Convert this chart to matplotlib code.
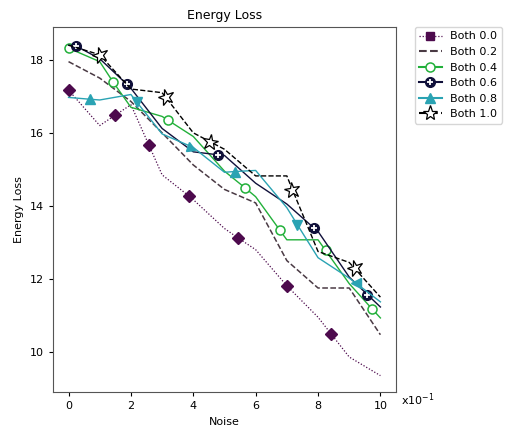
import matplotlib
matplotlib.use("Agg")
import matplotlib.pyplot as plt
from matplotlib.lines import Line2D
from matplotlib.markers import MarkerStyle
from matplotlib.transforms import Affine2D
from matplotlib.legend_handler import HandlerTuple

# --- data (noise in units of 1e-1) ---
labels = ["Both 0.0", "Both 0.2", "Both 0.4", "Both 0.6", "Both 0.8", "Both 1.0"]

noise_00 = [0, 1, 1.49, 2, 2.58, 3, 3.86, 4, 5, 5.42, 6, 7, 8, 8.43, 9, 10]
loss_00 = [17.17, 16.2, 16.48, 16.77, 15.66, 14.85, 14.27, 14.17, 13.38, 13.13, 12.8, 11.81, 10.95, 10.48, 9.86, 9.35]
marks_00 = [0, 2, 4, 6, 9, 11, 13]

noise_02 = [0, 1, 2, 3, 4, 5, 6, 7, 8, 9, 10]
loss_02 = [17.95, 17.5, 16.86, 16.0, 15.12, 14.45, 14.08, 12.5, 11.75, 11.75, 10.47]

noise_04 = [0, 1, 1.43, 2, 3, 3.2, 4, 5, 5.65, 6, 6.77, 7, 8, 8.24, 9, 9.74, 10]
loss_04 = [18.32, 17.95, 17.39, 16.7, 16.45, 16.34, 15.9, 14.95, 14.5, 14.25, 13.34, 13.07, 13.07, 12.78, 11.87, 11.17, 10.93]
marks_04 = [0, 2, 5, 8, 10, 13, 15]

noise_06 = [0, 0.24, 1, 1.87, 2, 3, 4, 4.78, 5, 6, 7, 7.86, 8, 9, 9.58, 10]
loss_06 = [18.4, 18.38, 18.03, 17.33, 17.22, 16.12, 15.48, 15.4, 15.38, 14.62, 14.05, 13.4, 13.3, 12.05, 11.57, 11.23]
marks_06 = [1, 3, 7, 11, 14]

noise_08 = [0, 0.69, 1, 2, 2.19, 3, 3.89, 4, 5, 5.33, 6, 7, 7.34, 8, 9, 9.22, 10]
loss_08 = [16.97, 16.92, 16.9, 17.05, 16.84, 15.97, 15.64, 15.6, 14.92, 14.94, 14.97, 13.95, 13.48, 12.58, 12.02, 11.88, 11.37]
marks_08 = [1, 4, 6, 9, 12, 15]
tri_angles = [0, 180, 10, 0, 180, 90]

noise_10 = [0, 1, 2, 3, 3.12, 4, 4.53, 5, 6, 7, 7.18, 8, 9, 9.17, 10]
loss_10 = [18.4, 18.14, 17.2, 17.1, 16.97, 16.0, 15.76, 15.55, 14.82, 14.82, 14.44, 12.75, 12.45, 12.29, 11.5]
marks_10 = [1, 4, 6, 10, 13]
star_angles = [15, 15, -10, 10, 15]

c00, c02, c04, c06, c08, c10 = "#4d0a4d", "#4a3a44", "#22b03a", "#10103a", "#2aa3b3", "black"


def rotated(m, a):
    return MarkerStyle(m, transform=Affine2D().rotate_deg(a))


fig, ax = plt.subplots(figsize=(5.09, 4.28), dpi=100)
fig.subplots_adjust(left=0.104, right=0.778, top=0.937, bottom=0.084)

# Both 0.0
ax.plot(noise_00, loss_00, color=c00, ls=(0, (1, 1.5)), lw=0.9)
for i in marks_00:
    ax.plot(noise_00[i], loss_00[i], marker=rotated("s", 45), ms=6, color=c00, ls="none")

# Both 0.2
ax.plot(noise_02, loss_02, color=c02, ls="--", lw=1.1)

# Both 0.4
ax.plot(noise_04, loss_04, color=c04, lw=1, marker="o", ms=6.5, mfc="white",
        mec=c04, mew=1.1, markevery=marks_04)

# Both 0.6
ax.plot(noise_06, loss_06, color=c06, lw=1, marker="o", ms=7, mfc=c06,
        mec=c06, markevery=marks_06)
ax.plot([noise_06[i] for i in marks_06], [loss_06[i] for i in marks_06],
        ls="none", marker="+", ms=4, mew=1.3, color="white")

# Both 0.8
ax.plot(noise_08, loss_08, color=c08, lw=1)
for i, a in zip(marks_08, tri_angles):
    ax.plot(noise_08[i], loss_08[i], marker=rotated("^", a), ms=6.5, color=c08, ls="none")

# Both 1.0
ax.plot(noise_10, loss_10, color=c10, ls="--", lw=1)
for i, a in zip(marks_10, star_angles):
    ax.plot(noise_10[i], loss_10[i], marker=rotated("*", a), ms=12, mfc="white",
            mec=c10, mew=0.9, ls="none")

ax.set_xlim(-0.5, 10.5)
ax.set_ylim(8.9, 18.9)
ax.set_xticks([0, 2, 4, 6, 8, 10])
ax.set_yticks([10, 12, 14, 16, 18])
ax.tick_params(labelsize=8, length=3)
for s in ax.spines.values():
    s.set_color("#555555")
ax.set_title("Energy Loss", fontsize=9)
ax.set_xlabel("Noise", fontsize=8)
ax.set_ylabel("Energy Loss", fontsize=8)
ax.text(1.015, -0.022, r"x10$^{-1}$", transform=ax.transAxes, fontsize=8, va="center")

handles = [
    Line2D([], [], color=c00, ls=(0, (1, 1.5)), lw=0.9, marker="s", ms=6),
    Line2D([], [], color=c02, ls="--"),
    Line2D([], [], color=c04, marker="o", ms=6.5, mfc="white", mew=1.1),
    (Line2D([], [], color=c06, marker="o", ms=7),
     Line2D([], [], ls="none", marker="+", ms=4, mew=1.3, color="white")),
    Line2D([], [], color=c08, marker="^", ms=6.5),
    Line2D([], [], color=c10, ls="--", marker="*", ms=11, mfc="white", mew=0.9),
]
ax.legend(handles, labels, loc="upper left", bbox_to_anchor=(1.055, 1.0), borderaxespad=0,
          fontsize=8, handlelength=2, handler_map={tuple: HandlerTuple(ndivide=1)})

fig.savefig("out.png", dpi=100)
